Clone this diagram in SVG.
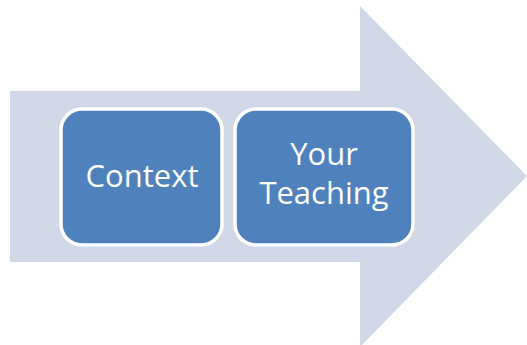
<svg xmlns="http://www.w3.org/2000/svg" width="527" height="345" viewBox="0 0 527 345">
  <style>
    .arrow { fill: #D0D8E8; }
    .box { fill: #4F81BD; stroke: #FFFFFF; stroke-width: 3.5; }
    .label { fill: #FFFFFF; font-family: "Open Sans", "Noto Sans", sans-serif; font-size: 31px; text-anchor: middle; }
  </style>
  <rect width="527" height="345" fill="#FFFFFF"/>
  <!-- background block arrow -->
  <g id="arrow">
    <polygon class="arrow" points="10,91 360,91 360,6 527,176 360,347 360,262 10,262"/>
  </g>
  <g id="context">
    <rect class="box" x="61" y="109" width="161" height="136" rx="21" ry="21"/>
    <text class="label" x="142" y="187">Context</text>
  </g>
  <g id="your-teaching">
    <rect class="box" x="235" y="109" width="178" height="136" rx="21" ry="21"/>
    <text class="label" x="324" y="165">Your</text>
    <text class="label" x="324" y="204">Teaching</text>
  </g>
  <g id="connectors"/>
</svg>
